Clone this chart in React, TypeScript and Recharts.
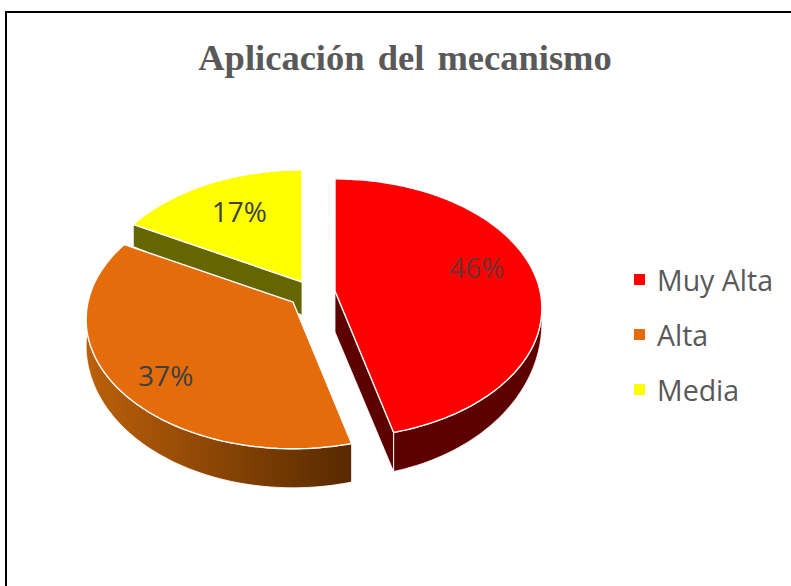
import { PieChart, Pie, Legend } from 'recharts';

const CATEGORIES = ['Muy Alta', 'Alta', 'Media'];
const VALUES = [46, 37, 17];
const COLORS = ['#FF0000', '#E46C0A', '#FFFF00'];

const data = CATEGORIES.map((name, i) => ({ name, value: VALUES[i], fill: COLORS[i] }));

// fake 3D: recharts gives the angles, these turn them into a tilted disc
const TILT = 0.62;
const PERSPECTIVE = 0.134;

const SLICES: Record<string, any> = {
  'Muy Alta': {
    apex: [335, 291], rimDepth: [10, 30], wall: '#5C0000',
    edge: 'end', edgeDepth: [41, 39], labelNudge: [1, -13],
  },
  Alta: {
    apex: [293, 302], rimDepth: [24, 15], wall: 'url(#altaWall)',
    labelNudge: [-7, 15],
  },
  Media: {
    apex: [302, 282], rimDepth: null, wall: '#666600',
    edge: 'start', edgeDepth: [33, 22], labelNudge: [5, 0],
  },
};

const project = (apex: number[], r: number, angle: number, f = 1) => {
  const rad = (angle * Math.PI) / 180;
  const u = f * Math.cos(rad);
  const v = f * Math.sin(rad);
  const den = 1 + PERSPECTIVE * v;
  return { x: apex[0] + (r * u) / den, y: apex[1] - (r * TILT * v) / den, v };
};

const rimAngles = (start: number, end: number) => {
  const out: number[] = [];
  const n = Math.max(2, Math.ceil(Math.abs(start - end)));
  for (let i = 0; i <= n; i++) out.push(start + ((end - start) * i) / n);
  return out;
};

const toPath = (pts: { x: number; y: number }[]) =>
  'M' + pts.map((p) => `${p.x.toFixed(1)},${p.y.toFixed(1)}`).join('L') + 'Z';

const WallShape = (props: any) => {
  const { startAngle, endAngle, outerRadius } = props;
  const slice = SLICES[props.name ?? props.payload?.name];
  const { apex, rimDepth, wall, edge, edgeDepth } = slice;
  const parts: string[] = [];

  if (rimDepth) {
    const rim = rimAngles(startAngle, endAngle)
      .map((a) => project(apex, outerRadius, a))
      .filter((p) => p.v <= 0.01);
    const lower = rim.map((p) => ({ x: p.x, y: p.y + rimDepth[0] + rimDepth[1] * -p.v }));
    parts.push(toPath([...rim, ...lower.reverse()]));
  }
  if (edge) {
    const corner = project(apex, outerRadius, edge === 'end' ? endAngle : startAngle);
    parts.push(
      toPath([
        { x: apex[0], y: apex[1] },
        corner,
        { x: corner.x, y: corner.y + edgeDepth[1] },
        { x: apex[0], y: apex[1] + edgeDepth[0] },
      ]),
    );
  }
  return <path d={parts.join(' ')} fill={wall} stroke="#fff" strokeWidth={0.8} />;
};

const TopShape = (props: any) => {
  const { startAngle, endAngle, outerRadius, fill } = props;
  const { apex } = SLICES[props.name ?? props.payload?.name];
  const rim = rimAngles(startAngle, endAngle).map((a) => project(apex, outerRadius, a));
  return <path d={toPath([{ x: apex[0], y: apex[1] }, ...rim])} fill={fill} stroke="#fff" strokeWidth={1.4} />;
};

const renderLabel = (props: any) => {
  const { midAngle, outerRadius, percent, name } = props;
  const { apex, labelNudge } = SLICES[name ?? props.payload?.name];
  const p = project(apex, outerRadius, midAngle, 0.7);
  return (
    <text
      x={p.x + labelNudge[0]}
      y={p.y + labelNudge[1]}
      textAnchor="middle"
      dominantBaseline="central"
      fill="#404040"
      fillOpacity={name === 'Muy Alta' ? 0.8 : 1}
      style={{ fontFamily: '"Open Sans", sans-serif', fontSize: 28 }}
    >
      {`${Math.round(percent * 100)}%`}
    </text>
  );
};

// both pies report to the legend, so pick each category once, in data order
const renderLegend = ({ payload }: any) => (
  <ul style={{ listStyle: 'none', margin: 0, padding: 0 }}>
    {CATEGORIES.map((name) => (payload || []).find((p: any) => p.value === name))
      .filter(Boolean)
      .map((item: any) => (
        <li key={item.value} style={{ display: 'flex', alignItems: 'center', height: 55 }}>
          <span style={{ width: 11, height: 11, background: item.color, marginRight: 12 }} />
          <span style={{ fontFamily: '"Open Sans", sans-serif', fontSize: 28.5, color: '#595959', whiteSpace: 'nowrap' }}>
            {item.value}
          </span>
        </li>
      ))}
  </ul>
);

export default function App() {
  return (
    <div style={{ position: 'absolute', left: 0, top: 0, width: 791, height: 586, overflow: 'hidden', background: '#fff' }}>
      <div style={{ position: 'absolute', left: 5, top: 11, width: 786, height: 575, borderLeft: '2px solid #000', borderTop: '2px solid #000' }} />
      <div
        style={{
          position: 'absolute', left: 0, top: 36, width: 810, textAlign: 'center',
          fontFamily: '"Liberation Serif", serif', fontWeight: 'bold', fontSize: 36.5, color: '#595959', wordSpacing: 4,
        }}
      >
        Aplicación del mecanismo
      </div>
      <PieChart width={791} height={586} style={{ position: 'absolute', left: 0, top: 0 }}>
        <defs>
          <linearGradient id="altaWall" x1="0" y1="0" x2="1" y2="0">
            <stop offset="0" stopColor="#BC600A" />
            <stop offset="1" stopColor="#572900" />
          </linearGradient>
        </defs>
        <Pie
          data={data} dataKey="value" nameKey="name" startAngle={90} endAngle={-270}
          outerRadius={205} legendType="none" shape={WallShape} activeShape={WallShape}
          label={false} labelLine={false} isAnimationActive={false}
        />
        <Pie
          data={data} dataKey="value" nameKey="name" startAngle={90} endAngle={-270}
          outerRadius={205} shape={TopShape} activeShape={TopShape}
          label={renderLabel} labelLine={false} isAnimationActive={false}
        />
        <Legend content={renderLegend} wrapperStyle={{ position: 'absolute', left: 634, top: 252, width: 157 }} />
      </PieChart>
    </div>
  );
}
